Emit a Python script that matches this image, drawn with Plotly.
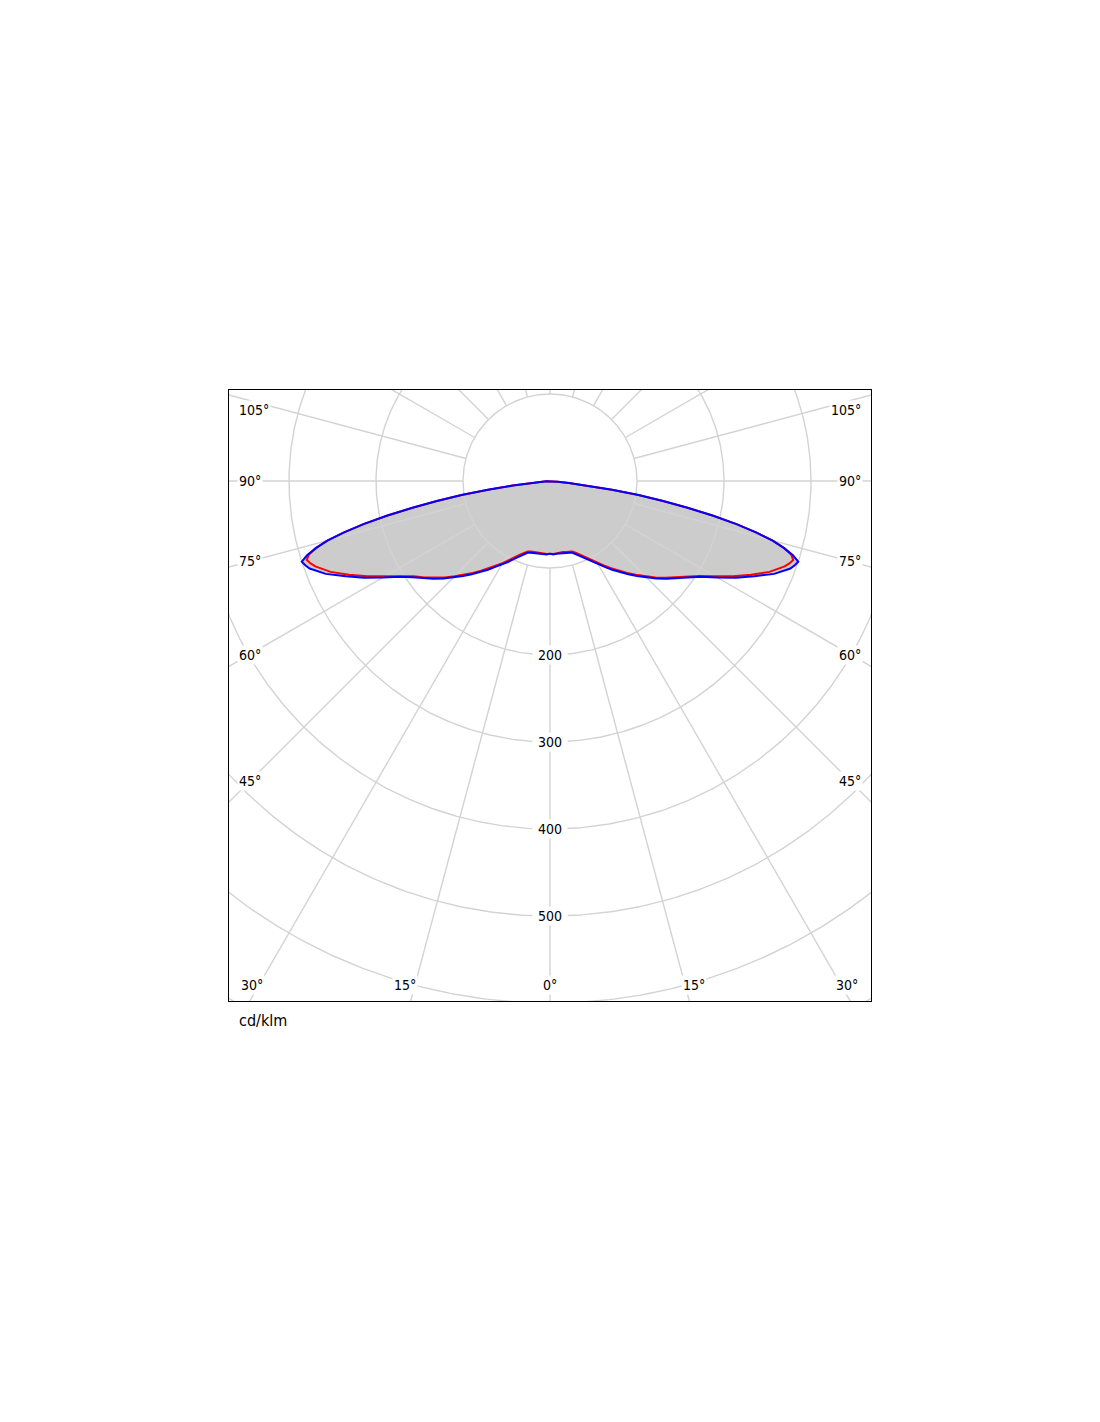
import numpy as np
import plotly.graph_objects as go

# ---------------- data (cd/klm) ----------------
GAMMA = [0, 2.5, 5, 7.5, 10, 12.5, 15, 17.5, 20, 22.5, 25, 27.5, 30, 32.5, 35, 37.5,
         40, 42.5, 45, 47.5, 50, 52.5, 55, 57.5, 60, 62.5, 65, 67.5, 70,
         71, 72, 73, 74, 75, 76, 77, 78, 79, 80, 81, 82, 83, 84, 85, 86, 87, 88, 89, 90]

C0_C180 = [83.5, 84, 83.5, 83, 83, 83.5, 84, 85, 88, 92, 97, 103, 109, 115, 122.5, 130,
           138, 146, 155, 164, 173, 182, 191, 203, 219, 237, 255, 273, 287,
           291, 294, 290, 280, 265, 244, 220, 191, 161, 132, 103, 72, 43, 22, 9, 4, 2, 1, 0.5, 0]

C90_C270 = [83.5, 84.5, 84, 84, 84.5, 85, 85.5, 86.5, 90, 94, 99, 105, 111, 117, 124.5, 132,
            140, 148, 157, 166, 175, 184, 193, 205, 222, 241, 259, 279, 294,
            297.5, 300, 292, 280, 265, 244, 220, 191, 161, 132, 103, 72, 43, 22, 9, 4, 2, 1, 0.5, 0]

GRID_RADII = [100, 200, 300, 400, 500, 600, 700, 800]
RADIUS_LABELS = [200, 300, 400, 500]
GRID_ANGLES = list(range(0, 360, 15))
SIDE_LABELS = ["105°", "90°", "75°", "60°", "45°"]
BOTTOM_LABELS = ["30°", "15°", "0°", "15°", "30°"]
UNIT_LABEL = "cd/klm"

# ---------------- layout constants ----------------
W, H = 1100, 1422
PAGE_OFFSET = 8  # body margin of the html page
BOX_L, BOX_T, BOX_R, BOX_B = 229, 390, 871, 1001
CX, CY = 550, 481
PX_PER_UNIT = 0.87
FONT = "DejaVu Sans Condensed, DejaVu Sans, sans-serif"
GRID_COLOR = "#d3d3d3"

x_range = [(BOX_L - CX) / PX_PER_UNIT, (BOX_R - CX) / PX_PER_UNIT]
y_range = [-(BOX_B - CY) / PX_PER_UNIT, (CY - BOX_T) / PX_PER_UNIT]


def curve_xy(gamma, values):
    g = np.radians(np.asarray(gamma, dtype=float))
    r = np.asarray(values, dtype=float)
    # right half (gamma ascending) then left half (gamma descending)
    xr, yr = r * np.sin(g), -r * np.cos(g)
    xl, yl = -r[::-1] * np.sin(g[::-1]), -r[::-1] * np.cos(g[::-1])
    return np.concatenate([xr, xl]), np.concatenate([yr, yl])


fig = go.Figure()

# filled outline of the outer curve
bx, by = curve_xy(GAMMA, C90_C270)
fig.add_trace(go.Scatter(x=bx, y=by, mode="lines", fill="toself",
                         fillcolor="#cccccc", line=dict(width=0, color="#cccccc"),
                         hoverinfo="skip", showlegend=False))

# grid circles
t = np.linspace(0, 2 * np.pi, 721)
for rr in GRID_RADII:
    fig.add_trace(go.Scatter(x=rr * np.cos(t), y=rr * np.sin(t), mode="lines",
                             line=dict(color=GRID_COLOR, width=1.4),
                             hoverinfo="skip", showlegend=False))
# radial lines
r0, r1 = GRID_RADII[0], 1200
for a in GRID_ANGLES:
    ar = np.radians(a)
    fig.add_trace(go.Scatter(x=[r0 * np.sin(ar), r1 * np.sin(ar)],
                             y=[-r0 * np.cos(ar), -r1 * np.cos(ar)], mode="lines",
                             line=dict(color=GRID_COLOR, width=1.4),
                             hoverinfo="skip", showlegend=False))

# curves
rx, ry = curve_xy(GAMMA, C0_C180)
fig.add_trace(go.Scatter(x=rx, y=ry, mode="lines", name="C0 - C180",
                         line=dict(color="#ff0000", width=2), showlegend=False))
fig.add_trace(go.Scatter(x=bx, y=by, mode="lines", name="C90 - C270",
                         line=dict(color="#0000ff", width=2), showlegend=False))

annotations = []
# radius labels on the 0° axis
for rr in RADIUS_LABELS:
    annotations.append(dict(x=0, y=-rr, xref="x", yref="y", text="\u00a0" + str(rr) + "\u00a0",
                            showarrow=False, bgcolor="white", borderpad=1,
                            font=dict(family=FONT, size=14, color="black"),
                            xanchor="center", yanchor="middle"))


def px_to_paper(px, py):
    return (px - BOX_L) / (BOX_R - BOX_L), (BOX_B - py) / (BOX_B - BOX_T)


side_y = [410, 481, 561, 655, 781]
for lab, py in zip(SIDE_LABELS, side_y):
    xl, yp = px_to_paper(237, py)
    annotations.append(dict(x=xl, y=yp, xref="paper", yref="paper", text=lab,
                            showarrow=False, bgcolor="white", borderpad=1,
                            font=dict(family=FONT, size=14, color="black"),
                            xanchor="left", yanchor="middle"))
    xr, _ = px_to_paper(863, py)
    annotations.append(dict(x=xr, y=yp, xref="paper", yref="paper", text=lab,
                            showarrow=False, bgcolor="white", borderpad=1,
                            font=dict(family=FONT, size=14, color="black"),
                            xanchor="right", yanchor="middle"))

bottom_x = [252, 405, 550, 694, 847]
for lab, pxx in zip(BOTTOM_LABELS, bottom_x):
    xp, yp = px_to_paper(pxx, 985)
    annotations.append(dict(x=xp, y=yp, xref="paper", yref="paper", text=lab,
                            showarrow=False, bgcolor="white", borderpad=1,
                            font=dict(family=FONT, size=14, color="black"),
                            xanchor="center", yanchor="middle"))

ux, uy = px_to_paper(237, 1020)
annotations.append(dict(x=ux, y=uy, xref="paper", yref="paper", text=UNIT_LABEL,
                        showarrow=False, font=dict(family=FONT, size=16, color="black"),
                        xanchor="left", yanchor="middle"))

axis_common = dict(showgrid=False, zeroline=False, showticklabels=False, ticks="",
                   showline=True, linecolor="black", linewidth=1, mirror=True,
                   fixedrange=True)

fig.update_layout(
    width=W, height=H,
    margin=dict(l=BOX_L - PAGE_OFFSET, r=W - BOX_R + PAGE_OFFSET,
                t=BOX_T - PAGE_OFFSET, b=H - BOX_B + PAGE_OFFSET, pad=0),
    paper_bgcolor="white", plot_bgcolor="white",
    xaxis=dict(range=x_range, **axis_common),
    yaxis=dict(range=y_range, **axis_common),
    annotations=annotations,
    showlegend=False,
)

fig.write_html("out.html")
